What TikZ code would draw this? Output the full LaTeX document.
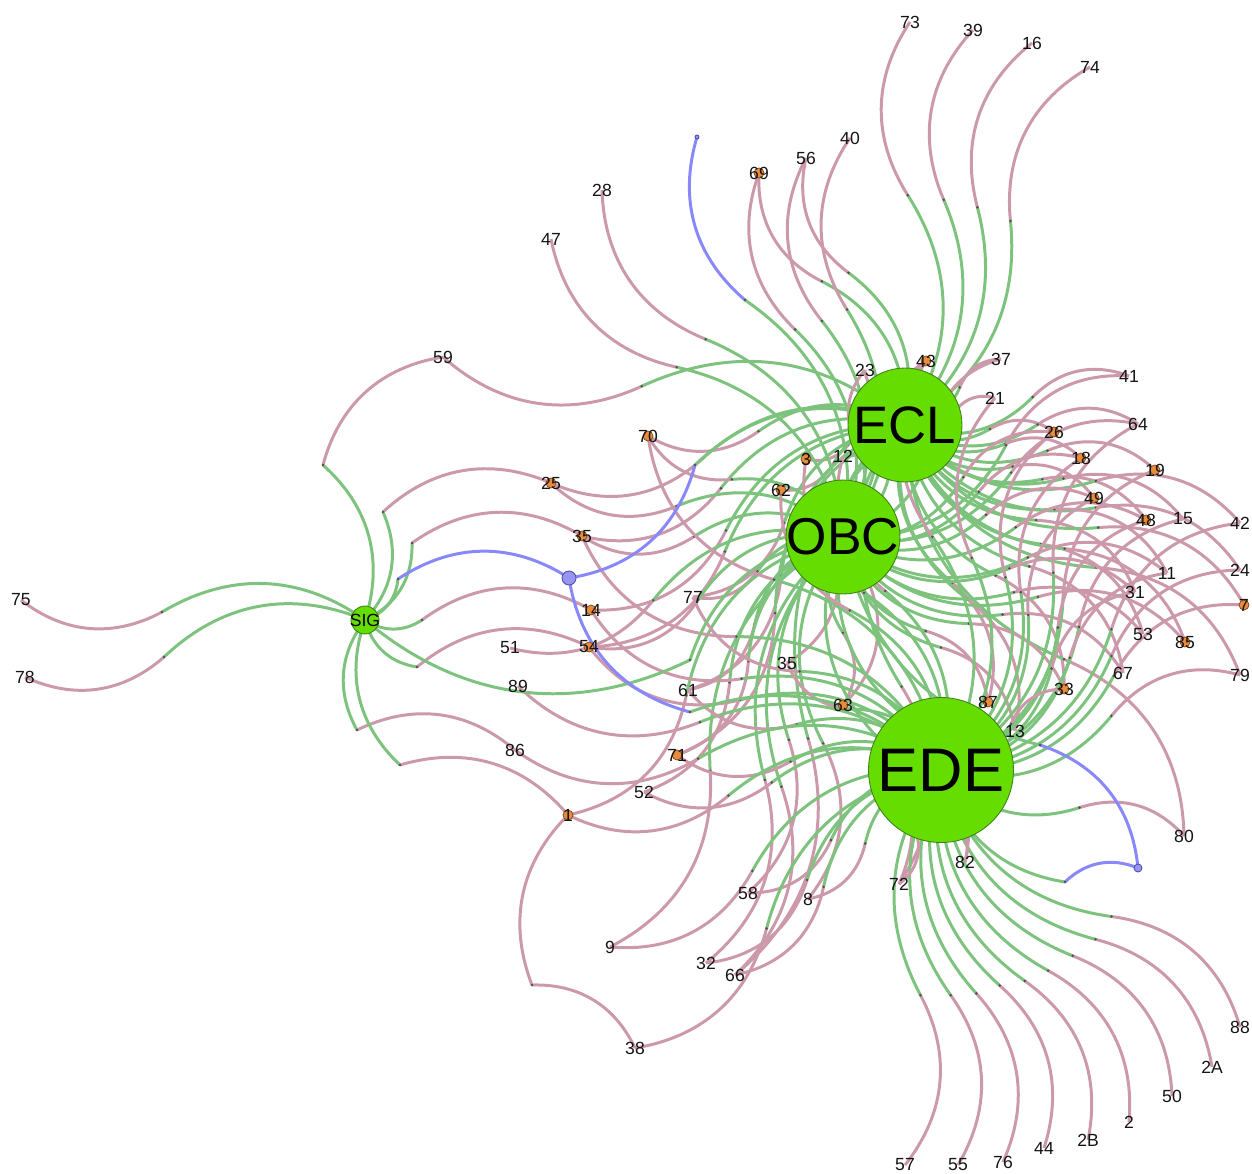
\documentclass[tikz,border=0pt]{standalone}
\usepackage{fontspec}
\setmainfont{Liberation Sans}
\usetikzlibrary{calc}
\pgfdeclarelayer{bg}
\pgfsetlayers{bg,main}
\definecolor{cG}{RGB}{125,195,125}
\definecolor{cP}{RGB}{204,153,170}
\definecolor{cB}{RGB}{136,136,250}
\definecolor{cK}{RGB}{80,80,80}
\definecolor{cH}{RGB}{102,221,0}
\definecolor{cHB}{RGB}{60,130,20}
\definecolor{cO}{RGB}{232,140,60}
\definecolor{cOB}{RGB}{120,70,30}
\definecolor{cT}{RGB}{20,20,20}
\definecolor{cBl}{RGB}{150,150,240}
\definecolor{cBB}{RGB}{80,80,170}
\tikzset{
 ge/.style={draw=cG, line width=1.7pt},
 pe/.style={draw=cP, line width=1.7pt},
 be/.style={draw=cB, line width=1.7pt},
 kd/.style={fill=cK},
 hub/.style={circle, fill=cH, draw=cHB, line width=0.5pt, inner sep=0pt},
 lbl/.style={font=\fontsize{10}{10}\selectfont, text=cT, inner sep=0pt},
 leaf/.style={circle, inner sep=0pt, minimum size=0.2cm, label={[lbl]center:#1}},
 dleaf/.style={leaf=#1, fill=cO, draw=cOB, line width=0.4pt},
 bnode/.style={circle, inner sep=0pt, fill=cBl, draw=cBB, line width=0.5pt},
}
\newcommand\EK[5]{%
  \coordinate (k) at #3;
  \draw[#4] (#1.center) to[bend right=33] (k);
  \draw[#5] (#2.center) to[bend right=33] (k);
  \fill[kd] (k) circle (0.8pt);}
\newcommand\E[3][0.57]{\EK{#2}{#3}{($(#2.center)!#1!(#3.center)$)}{ge}{pe}}
\begin{document}
\begin{tikzpicture}[x=0.02cm,y=-0.02cm]
\useasboundingbox (0,0) rectangle (1252,1174);
% hubs
\node[hub, minimum size=2.28cm, label={[font=\fontsize{30}{30}\selectfont]center:ECL}] (ECL) at (905,425) {};
\node[hub, minimum size=2.28cm, label={[font=\fontsize{29.5}{30}\selectfont]center:OBC}] (OBC) at (843,537) {};
\node[hub, minimum size=2.9cm, label={[font=\fontsize{35}{35}\selectfont]center:EDE}] (EDE) at (941,770) {};
\node[hub, minimum size=0.56cm, label={[font=\fontsize{10}{10}\selectfont]center:SIG}] (SIG) at (365,620) {};
% blue nodes
\node[bnode, minimum size=0.08cm] (B0) at (697,137) {};
\node[bnode, minimum size=0.28cm] (B1) at (569,578) {};
\node[bnode, minimum size=0.16cm] (B2) at (1138,868) {};
% leaves
\node[leaf=73] (L73) at (910,22) {};
\node[leaf=39] (L39) at (973,30) {};
\node[leaf=16] (L16) at (1032,43) {};
\node[leaf=74] (L74) at (1090,67) {};
\node[leaf=40] (L40) at (850,138) {};
\node[leaf=56] (L56) at (806,158) {};
\node[dleaf=69] (L69) at (759,173) {};
\node[leaf=28] (L28) at (602,190) {};
\node[leaf=47] (L47) at (551,239) {};
\node[leaf=59] (L59) at (443,357) {};
\node[leaf=23] (L23) at (865,370) {};
\node[dleaf=43] (L43) at (926,361) {};
\node[leaf=37] (L37) at (1001,359) {};
\node[leaf=21] (L21) at (995,398) {};
\node[leaf=41] (L41) at (1129,376) {};
\node[dleaf=26] (L26) at (1054,432) {};
\node[leaf=64] (L64) at (1138,424) {};
\node[dleaf=18] (L18) at (1081,458) {};
\node[dleaf=19] (L19) at (1155,470) {};
\node[dleaf=49] (L49) at (1094,498) {};
\node[dleaf=48] (L48) at (1146,520) {};
\node[leaf=15] (L15) at (1183,519) {};
\node[leaf=42] (L42) at (1240,523) {};
\node[dleaf=70] (L70) at (648,436) {};
\node[dleaf=3] (L3) at (806,459) {};
\node[leaf=12] (L12) at (843,456) {};
\node[dleaf=62] (L62) at (781,490) {};
\node[dleaf=25] (L25) at (551,483) {};
\node[dleaf=35] (L35a) at (582,536) {};
\node[leaf=24] (L24) at (1240,570) {};
\node[leaf=11] (L11) at (1167,573) {};
\node[leaf=31] (L31) at (1135,592) {};
\node[dleaf=7] (L7) at (1244,605) {};
\node[leaf=77] (L77) at (693,597) {};
\node[dleaf=14] (L14) at (591,610) {};
\node[leaf=75] (L75) at (21,600) {};
\node[leaf=78] (L78) at (25,677) {};
\node[leaf=53] (L53) at (1143,634) {};
\node[dleaf=85] (L85) at (1185,642) {};
\node[leaf=51] (L51) at (510,648) {};
\node[dleaf=54] (L54) at (589,647) {};
\node[leaf=35] (L35b) at (787,663) {};
\node[leaf=67] (L67) at (1123,673) {};
\node[leaf=79] (L79) at (1240,675) {};
\node[leaf=89] (L89) at (518,686) {};
\node[leaf=61] (L61) at (688,690) {};
\node[dleaf=63] (L63) at (843,705) {};
\node[dleaf=87] (L87) at (988,702) {};
\node[dleaf=33] (L33) at (1064,689) {};
\node[leaf=13] (L13) at (1015,731) {};
\node[leaf=86] (L86) at (515,750) {};
\node[dleaf=71] (L71) at (677,755) {};
\node[leaf=52] (L52) at (644,792) {};
\node[dleaf=1] (L1) at (568,815) {};
\node[leaf=80] (L80) at (1184,836) {};
\node[leaf=82] (L82) at (965,862) {};
\node[leaf=72] (L72) at (899,884) {};
\node[leaf=58] (L58) at (748,893) {};
\node[leaf=8] (L8) at (808,899) {};
\node[leaf=9] (L9) at (610,947) {};
\node[leaf=32] (L32) at (706,963) {};
\node[leaf=66] (L66) at (735,975) {};
\node[leaf=38] (L38) at (635,1048) {};
\node[leaf=88] (L88) at (1240,1027) {};
\node[leaf=2A] (L2A) at (1212,1067) {};
\node[leaf=50] (L50) at (1172,1096) {};
\node[leaf=2] (L2) at (1129,1122) {};
\node[leaf=2B] (L2B) at (1088,1140) {};
\node[leaf=44] (L44) at (1044,1148) {};
\node[leaf=76] (L76) at (1003,1162) {};
\node[leaf=55] (L55) at (958,1165) {};
\node[leaf=57] (L57) at (905,1165) {};
% edges
\begin{pgfonlayer}{bg}
\foreach \t in {L73,L39,L16,L74,L56,L69,L59,L23,L43,L37,L21,L41,L26,L64,L18,L19,L49,L48,L15,L42,L70,L3,L12,L62,L25,L35a,L24,L11,L31,L7,L77,L14,L53,L85,L54,L35b,L67,L79,L61,L63,L87,L33,L13,L71,L80,L72,L66} {\E{ECL}{\t}}
\foreach \t in {L40,L56,L69,L28,L47,L23,L43,L37,L41,L26,L64,L18,L49,L48,L70,L25,L35a,L11,L31,L77,L53,L85,L51,L54,L67,L61,L63,L87,L33,L13,L71,L52,L1,L82,L72,L58,L8,L9,L32,L66} {\E{OBC}{\t}}
\foreach \t in {L57,L55,L76,L44,L2B,L2,L50,L2A,L88,L43,L21,L26,L64,L18,L19,L49,L48,L15,L42,L70,L3,L12,L62,L35a,L24,L11,L31,L7,L77,L14,L54,L35b,L79,L89,L61,L33,L86,L71,L52,L1,L80,L82,L72,L58,L8,L9,L32,L66,L38} {\E{EDE}{\t}}
\EK{SIG}{L75}{(162,612)}{ge}{pe}
\EK{SIG}{L78}{(164,657)}{ge}{pe}
\EK{SIG}{L59}{(323,465)}{ge}{pe}
\EK{SIG}{L25}{(383,512)}{ge}{pe}
\EK{SIG}{L35a}{(412,543)}{ge}{pe}
\EK{SIG}{B1}{(398,579)}{ge}{be}
\EK{SIG}{L14}{(422,620)}{ge}{pe}
\EK{SIG}{L54}{(417,667)}{ge}{pe}
\EK{SIG}{OBC}{(690,660)}{ge}{ge}
\EK{SIG}{L86}{(357,730)}{ge}{pe}
\EK{SIG}{L1}{(400,765)}{ge}{pe}
\EK{L1}{L38}{(532,985)}{pe}{pe}
\EK{OBC}{B0}{(745,300)}{ge}{be}
\EK{ECL}{B1}{(695,465)}{ge}{be}
\EK{EDE}{B1}{(690,712)}{ge}{be}
\EK{EDE}{B2}{(1065,882)}{ge}{be}
\EK{OBC}{B2}{(1040,745)}{ge}{be}
\end{pgfonlayer}
\end{tikzpicture}
\end{document}
